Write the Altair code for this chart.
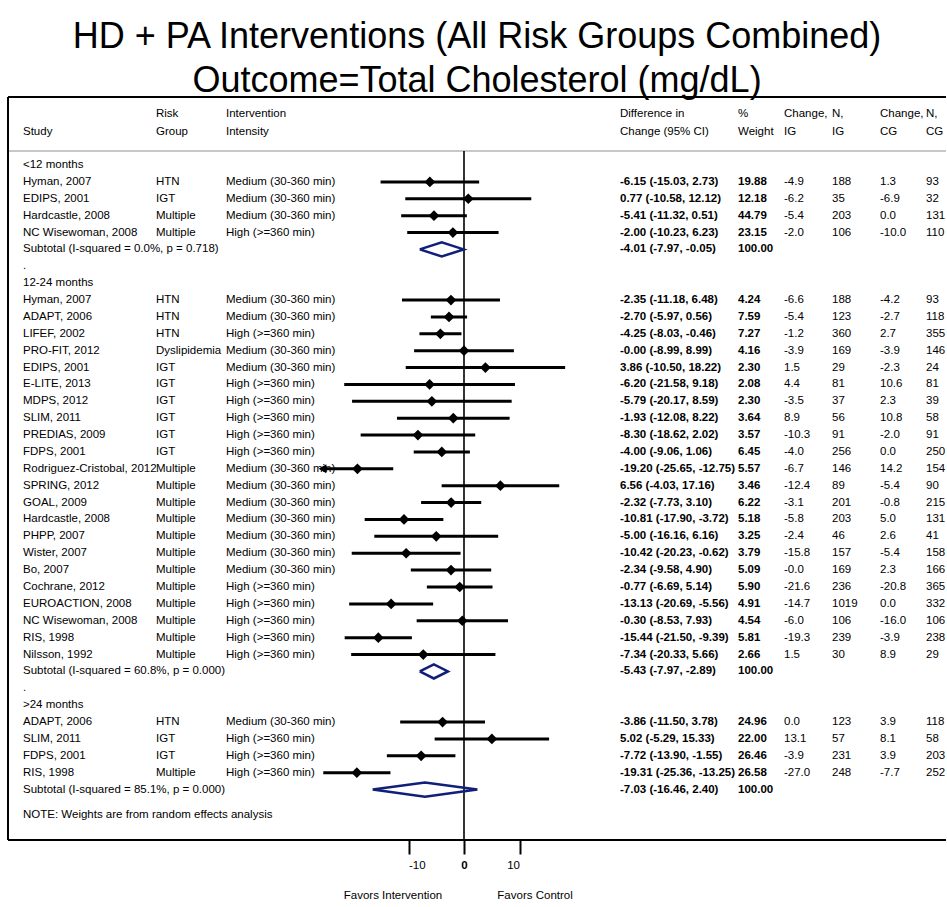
import altair as alt
import pandas as pd

# ---------------- data ----------------
group_labels = ["<12 months", "12-24 months", ">24 months"]

study_names = [
    "Hyman, 2007", "EDIPS, 2001", "Hardcastle, 2008", "NC Wisewoman, 2008",
    "Hyman, 2007", "ADAPT, 2006", "LIFEF, 2002", "PRO-FIT, 2012", "EDIPS, 2001",
    "E-LITE, 2013", "MDPS, 2012", "SLIM, 2011", "PREDIAS, 2009", "FDPS, 2001",
    "Rodriguez-Cristobal, 2012", "SPRING, 2012", "GOAL, 2009", "Hardcastle, 2008",
    "PHPP, 2007", "Wister, 2007", "Bo, 2007", "Cochrane, 2012", "EUROACTION, 2008",
    "NC Wisewoman, 2008", "RIS, 1998", "Nilsson, 1992",
    "ADAPT, 2006", "SLIM, 2011", "FDPS, 2001", "RIS, 1998",
]
study_group = [0] * 4 + [1] * 22 + [2] * 4
risk_group = [
    "HTN", "IGT", "Multiple", "Multiple",
    "HTN", "HTN", "HTN", "Dyslipidemia", "IGT", "IGT", "IGT", "IGT", "IGT", "IGT",
    "Multiple", "Multiple", "Multiple", "Multiple", "Multiple", "Multiple", "Multiple",
    "Multiple", "Multiple", "Multiple", "Multiple", "Multiple",
    "HTN", "IGT", "IGT", "Multiple",
]
MED = "Medium (30-360 min)"
HIGH = "High (>=360 min)"
intensity = [
    MED, MED, MED, HIGH,
    MED, MED, HIGH, MED, MED, HIGH, HIGH, HIGH, HIGH, HIGH,
    MED, MED, MED, MED, MED, MED, MED, HIGH, HIGH, HIGH, HIGH, HIGH,
    MED, HIGH, HIGH, HIGH,
]
est = [-6.15, 0.77, -5.41, -2.00,
       -2.35, -2.70, -4.25, -0.0, 3.86, -6.20, -5.79, -1.93, -8.30, -4.00,
       -19.20, 6.56, -2.32, -10.81, -5.00, -10.42, -2.34, -0.77, -13.13, -0.30, -15.44, -7.34,
       -3.86, 5.02, -7.72, -19.31]
ci_low = [-15.03, -10.58, -11.32, -10.23,
          -11.18, -5.97, -8.03, -8.99, -10.50, -21.58, -20.17, -12.08, -18.62, -9.06,
          -25.65, -4.03, -7.73, -17.90, -16.16, -20.23, -9.58, -6.69, -20.69, -8.53, -21.50, -20.33,
          -11.50, -5.29, -13.90, -25.36]
ci_high = [2.73, 12.12, 0.51, 6.23,
           6.48, 0.56, -0.46, 8.99, 18.22, 9.18, 8.59, 8.22, 2.02, 1.06,
           -12.75, 17.16, 3.10, -3.72, 6.16, -0.62, 4.90, 5.14, -5.56, 7.93, -9.39, 5.66,
           3.78, 15.33, -1.55, -13.25]
pct_weight = [19.88, 12.18, 44.79, 23.15,
              4.24, 7.59, 7.27, 4.16, 2.30, 2.08, 2.30, 3.64, 3.57, 6.45,
              5.57, 3.46, 6.22, 5.18, 3.25, 3.79, 5.09, 5.90, 4.91, 4.54, 5.81, 2.66,
              24.96, 22.00, 26.46, 26.58]
change_ig = [-4.9, -6.2, -5.4, -2.0,
             -6.6, -5.4, -1.2, -3.9, 1.5, 4.4, -3.5, 8.9, -10.3, -4.0,
             -6.7, -12.4, -3.1, -5.8, -2.4, -15.8, -0.0, -21.6, -14.7, -6.0, -19.3, 1.5,
             0.0, 13.1, -3.9, -27.0]
n_ig = [188, 35, 203, 106,
        188, 123, 360, 169, 29, 81, 37, 56, 91, 256,
        146, 89, 201, 203, 46, 157, 169, 236, 1019, 106, 239, 30,
        123, 57, 231, 248]
change_cg = [1.3, -6.9, 0.0, -10.0,
             -4.2, -2.7, 2.7, -3.9, -2.3, 10.6, 2.3, 10.8, -2.0, 0.0,
             14.2, -5.4, -0.8, 5.0, 2.6, -5.4, 2.3, -20.8, 0.0, -16.0, -3.9, 8.9,
             3.9, 8.1, 3.9, -7.7]
n_cg = [93, 32, 131, 110,
        93, 118, 355, 146, 24, 81, 39, 58, 91, 250,
        154, 90, 215, 131, 41, 158, 166, 365, 332, 106, 238, 29,
        118, 58, 203, 252]

subtotal_labels = ["Subtotal  (I-squared = 0.0%, p = 0.718)",
                   "Subtotal  (I-squared = 60.8%, p = 0.000)",
                   "Subtotal  (I-squared = 85.1%, p = 0.000)"]
sub_est = [-4.01, -5.43, -7.03]
sub_low = [-7.97, -7.97, -16.46]
sub_high = [-0.05, -2.89, 2.40]
sub_weight = [100.00, 100.00, 100.00]

note_text = "NOTE: Weights are from random effects analysis"
header_line1 = ["", "Risk", "Intervention", "Difference in", "%", "Change,", "N,", "Change,", "N,"]
header_line2 = ["Study", "Group", "Intensity", "Change (95% CI)", "Weight", "IG", "IG", "CG", "CG"]
axis_ticks = [-10, 0, 10]
favors_labels = ["Favors Intervention", "Favors Control"]
favors_pos = [-12.8, 12.8]
x_min = -25.5  # lower limit of the plotted scale (arrows beyond)

# ---------------- build tables ----------------
text_rows, study_rows, sub_rows = [], [], []
row = 0
si = 0
for g, glabel in enumerate(group_labels):
    text_rows.append(dict(row=row, c0=glabel))
    row += 1
    while si < len(study_names) and study_group[si] == g:
        text_rows.append(dict(
            row=row, c0=study_names[si], c1=risk_group[si], c2=intensity[si],
            c3=f"{est[si]:.2f} ({ci_low[si]:.2f}, {ci_high[si]:.2f})",
            c4=f"{pct_weight[si]:.2f}", c5=f"{change_ig[si]:.1f}", c6=str(n_ig[si]),
            c7=f"{change_cg[si]:.1f}", c8=str(n_cg[si])))
        study_rows.append(dict(row=row, est=est[si], lo=max(ci_low[si], x_min),
                               hi=ci_high[si], clipped=ci_low[si] < x_min))
        si += 1
        row += 1
    text_rows.append(dict(row=row, c0=subtotal_labels[g],
                          c3=f"{sub_est[g]:.2f} ({sub_low[g]:.2f}, {sub_high[g]:.2f})",
                          c4=f"{sub_weight[g]:.2f}"))
    h = 0.42
    for k, (xv, yv) in enumerate([(sub_low[g], row), (sub_est[g], row - h), (sub_high[g], row),
                                  (sub_est[g], row + h), (sub_low[g], row)]):
        sub_rows.append(dict(grp=g, seq=k, x=xv, row=yv))
    row += 1
    if g < len(group_labels) - 1:
        text_rows.append(dict(row=row, c0="."))
        row += 1
text_rows.append(dict(row=row + 0.5, c0=note_text))

text_df = pd.DataFrame(text_rows).fillna("")
study_df = pd.DataFrame(study_rows)
sub_df = pd.DataFrame(sub_rows)
hdr_df = pd.DataFrame({"row": [-3.0] * 9 + [-1.95] * 9,
                       "col": list(range(9)) * 2,
                       "t": header_line1 + header_line2})
fav_df = pd.DataFrame({"x": favors_pos, "t": favors_labels})
zero_df = pd.DataFrame({"x": [0]})

# ---------------- styling / layout ----------------
FONT = "Liberation Sans"
FS = 11.5
NAVY = "#10207a"
W, H = 938, 743
ROW0, ROWH = 68, 16.88
ZERO_PX, PX_PER_UNIT = 456, 5.55
col_px = [15, 148, 218, 612, 730, 776, 824, 872, 918]
col_bold = [False, False, False, True, True, False, False, False, False]

yscale = alt.Scale(domain=[0, 39], range=[ROW0, ROW0 + 39 * ROWH], nice=False, zero=False)
xscale = alt.Scale(domain=[-10, 10],
                   range=[ZERO_PX - 10 * PX_PER_UNIT, ZERO_PX + 10 * PX_PER_UNIT],
                   nice=False, zero=False)
AX = alt.Axis(values=axis_ticks, domain=False, grid=False, ticks=True, tickSize=14,
              tickWidth=2, tickColor="black", labelFont=FONT, labelFontSize=FS,
              labelColor="black", labelPadding=5, title=None,
              labelExpr="'' + datum.value",
              labelFontWeight={"condition": {"test": "datum.value === 0", "value": "bold"},
                               "value": "normal"})
Y = alt.Y("row:Q", scale=yscale, axis=None)

layers = []

# frame: top, left, bottom borders and header separator
layers.append(alt.Chart(zero_df).mark_rule(color="#c8c8c8", strokeWidth=2).encode(
    x=alt.value(0), x2=alt.value(W), y=alt.value(54)))
for spec in [dict(x=alt.value(0), x2=alt.value(W), y=alt.value(0)),
             dict(x=alt.value(0), x2=alt.value(W), y=alt.value(H)),
             dict(x=alt.value(0), y=alt.value(0), y2=alt.value(H))]:
    layers.append(alt.Chart(zero_df).mark_rule(color="black", strokeWidth=2).encode(**spec))

# zero reference line
layers.append(alt.Chart(zero_df).mark_rule(color="black", strokeWidth=1.6).encode(
    x=alt.X("x:Q", scale=xscale, axis=AX), y=alt.value(54), y2=alt.value(H)))

# CI lines
layers.append(alt.Chart(study_df).mark_rule(color="black", strokeWidth=3).encode(
    x=alt.X("lo:Q", scale=xscale, axis=AX), x2="hi:Q", y=Y))
# arrows for truncated CIs
layers.append(alt.Chart(study_df).transform_filter("datum.clipped").mark_point(
    shape="triangle-left", filled=True, color="black", opacity=1, size=80).encode(
    x=alt.X("lo:Q", scale=xscale, axis=AX), y=Y))
# point estimates
layers.append(alt.Chart(study_df).mark_point(
    shape="diamond", filled=True, color="black", opacity=1, size=115).encode(
    x=alt.X("est:Q", scale=xscale, axis=AX), y=Y))
# subtotal diamonds
layers.append(alt.Chart(sub_df).mark_line(color=NAVY, strokeWidth=2.5, strokeJoin="miter").encode(
    x=alt.X("x:Q", scale=xscale, axis=AX), y=Y, detail="grp:N", order="seq:Q"))

# text columns
for i in range(9):
    layers.append(alt.Chart(text_df).mark_text(
        align="left", baseline="middle", font=FONT, fontSize=FS, color="black",
        fontWeight="bold" if col_bold[i] else "normal").encode(
        x=alt.value(col_px[i]), y=Y, text=alt.Text(f"c{i}:N")))
    layers.append(alt.Chart(hdr_df).transform_filter(f"datum.col == {i}").mark_text(
        align="left", baseline="middle", font=FONT, fontSize=FS, color="black").encode(
        x=alt.value(col_px[i]), y=Y, text=alt.Text("t:N")))

# favors labels
layers.append(alt.Chart(fav_df).mark_text(
    align="center", baseline="middle", font=FONT, fontSize=FS, color="black").encode(
    x=alt.X("x:Q", scale=xscale, axis=AX), y=alt.value(799), text="t:N"))

chart = alt.layer(*layers).properties(
    width=W, height=H,
    title=alt.TitleParams(
        text=["HD + PA Interventions (All Risk Groups Combined)",
              "Outcome=Total Cholesterol (mg/dL)"],
        font=FONT, fontSize=36, fontWeight="normal", color="black",
        anchor="middle", lineHeight=44, offset=-4),
    autosize=alt.AutoSizeParams(type="none"),
    padding={"left": 8, "top": 97, "right": 0, "bottom": 62},
    background="white",
).configure_view(stroke=None)

chart.save("out.html", embed_options={"renderer": "svg", "actions": False})
